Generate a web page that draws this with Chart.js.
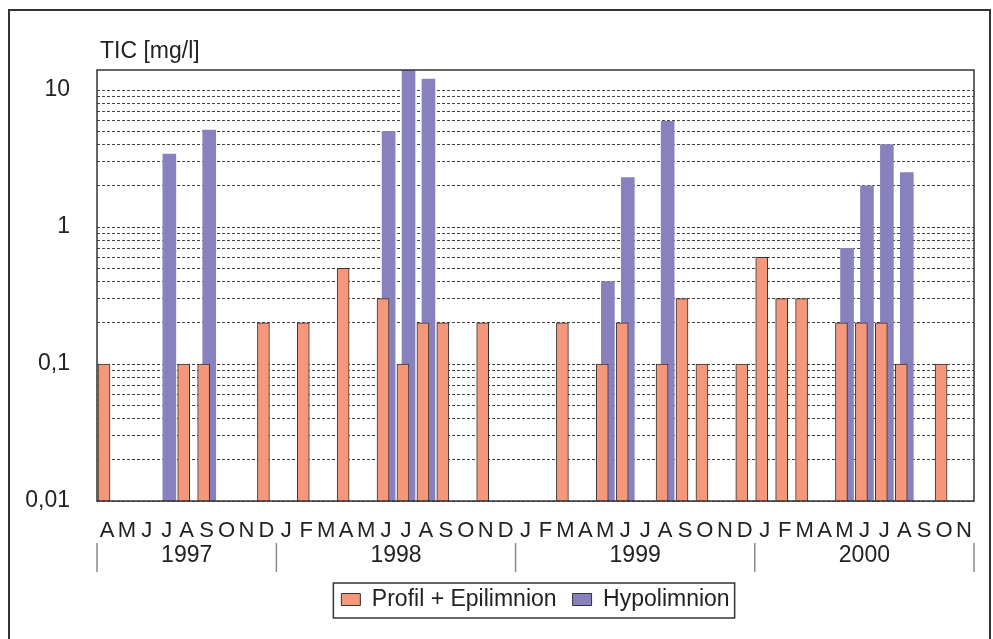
<!DOCTYPE html>
<html><head><meta charset="utf-8">
<script src="https://cdn.jsdelivr.net/npm/chart.js@4.4.1/dist/chart.umd.min.js"></script>
<style>html,body{margin:0;padding:0;background:#fff;}canvas{display:block;}</style>
</head><body>
<canvas id="c" width="993" height="639"></canvas>
<script>
// ---- data ----
const monthLabels = ['A','M','J','J','A','S','O','N','D',
  'J','F','M','A','M','J','J','A','S','O','N','D',
  'J','F','M','A','M','J','J','A','S','O','N','D',
  'J','F','M','A','M','J','J','A','S','O','N'];
const years = ['1997','1998','1999','2000'];
const yearMonthCounts = [9, 12, 12, 11];
const epilimnion = [0.1,null,null,null,0.1,0.1,null,null,0.2,
  null,0.2,null,0.5,null,0.3,0.1,0.2,0.2,null,0.2,null,
  null,null,0.2,null,0.1,0.2,null,0.1,0.3,0.1,null,0.1,
  0.6,0.3,0.3,null,0.2,0.2,0.2,0.1,null,0.1,null];
const hypolimnion = [null,null,null,3.4,null,5.1,null,null,null,
  null,null,null,null,null,5.0,15,12,null,null,null,null,
  null,null,null,null,0.4,2.3,null,5.9,null,null,null,null,
  null,null,null,null,0.7,2.0,4.0,2.5,null,null,null];
const yTickValues = [0.01,0.02,0.03,0.04,0.05,0.06,0.07,0.08,0.09,
  0.1,0.2,0.3,0.4,0.5,0.6,0.7,0.8,0.9,1,2,3,4,5,6,7,8,9,10];
const yTickLabels = {'0.01':'0,01','0.1':'0,1','1':'1','10':'10'};
const yTitle = 'TIC [mg/l]';
const seriesNames = ['Profil + Epilimnion', 'Hypolimnion'];

// ---- chart ----
const FONT = '"Liberation Sans", Arial, Helvetica, sans-serif';
Chart.defaults.font.family = FONT;
Chart.defaults.color = '#222';

const toPoints = (arr, shift) => arr.map((v, i) => ({x: i + shift, y: v})).filter(p => p.y !== null);

const decor = {
  id: 'decor',
  afterDraw(chart) {
    const {ctx, chartArea: a, scales: {x}} = chart;
    ctx.save();
    // outer frame
    ctx.strokeStyle = '#333'; ctx.lineWidth = 2;
    ctx.beginPath(); ctx.moveTo(9, 650); ctx.lineTo(9, 10); ctx.lineTo(990, 10); ctx.lineTo(990, 650); ctx.stroke();
    // plot frame
    ctx.lineWidth = 1.5; ctx.strokeStyle = '#333';
    ctx.strokeRect(a.left, a.top, a.right - a.left, a.bottom - a.top);
    // axis title
    ctx.fillStyle = '#222'; ctx.font = '23px ' + FONT;
    ctx.textAlign = 'left'; ctx.textBaseline = 'alphabetic';
    ctx.fillText(yTitle, a.left + 3, a.top - 12);
    // year row
    ctx.textAlign = 'center'; ctx.textBaseline = 'middle';
    ctx.strokeStyle = '#8a8a8a'; ctx.lineWidth = 1.5;
    const sepTop = a.bottom + 42, sepBot = a.bottom + 71;
    const sep = v => { const px = x.getPixelForValue(v); ctx.beginPath(); ctx.moveTo(px, sepTop); ctx.lineTo(px, sepBot); ctx.stroke(); };
    let start = 0; sep(0);
    years.forEach((yr, k) => {
      const end = start + yearMonthCounts[k];
      ctx.fillText(yr, x.getPixelForValue((start + end) / 2), a.bottom + 55);
      sep(end); start = end;
    });
    // legend border
    const hb = chart.legend.legendHitBoxes;
    if (hb && hb.length) {
      const l = hb[0].left - 8, r = hb[hb.length - 1].left + hb[hb.length - 1].width + 5;
      const t = hb[0].top - 5, b = hb[0].top + hb[0].height + 7;
      ctx.strokeStyle = '#333'; ctx.lineWidth = 1.5;
      ctx.strokeRect(l, t, r - l, b - t);
    }
    ctx.restore();
  }
};

new Chart(document.getElementById('c'), {
  type: 'bar',
  data: {
    datasets: [
      { label: seriesNames[0], data: toPoints(epilimnion, 0.35), backgroundColor: '#F4977A',
        borderColor: '#333', borderWidth: 1, barThickness: 12 },
      { label: seriesNames[1], data: toPoints(hypolimnion, 0.63), backgroundColor: '#8782BD',
        borderColor: '#333', borderWidth: 0, barThickness: 13 }
    ]
  },
  options: {
    responsive: false, animation: false, devicePixelRatio: 1,
    layout: { padding: { top: 70, right: 19, left: 0, bottom: 18 } },
    datasets: { bar: { grouped: false } },
    plugins: {
      tooltip: { enabled: false },
      title: { display: false },
      legend: {
        position: 'bottom', fullSize: false,
        labels: {
          boxWidth: 19, boxHeight: 12, padding: 16, color: '#222',
          font: { size: 23, family: FONT },
          generateLabels(chart) {
            const items = Chart.defaults.plugins.legend.labels.generateLabels(chart);
            items.forEach(it => { it.lineWidth = 1; it.strokeStyle = '#333'; });
            return items;
          }
        }
      }
    },
    scales: {
      x: {
        type: 'linear', min: 0, max: monthLabels.length, offset: false,
        grid: { display: false }, border: { display: false },
        afterBuildTicks(scale) { scale.ticks = monthLabels.map((m, i) => ({ value: i + 0.5 })); },
        afterFit(scale) { scale.height = 71; },
        ticks: {
          autoSkip: false, maxRotation: 0, minRotation: 0, padding: 9, color: '#222',
          font: { size: 22, family: FONT },
          callback: (v, i) => monthLabels[i]
        }
      },
      y: {
        type: 'logarithmic', min: 0.01, max: 14,
        afterBuildTicks(scale) { scale.ticks = yTickValues.map(v => ({ value: v })); },
        afterFit(scale) { scale.width = 97; },
        grid: { color: '#444', lineWidth: 1, drawTicks: false },
        border: { display: false, dash: [3, 2] },
        ticks: {
          autoSkip: false, padding: 27, color: '#222',
          font: { size: 23, family: FONT },
          callback: (v) => { const k = String(+v.toPrecision(3)); return yTickLabels[k] !== undefined ? yTickLabels[k] : ''; }
        }
      }
    }
  },
  plugins: [decor]
});
</script>
</body></html>
